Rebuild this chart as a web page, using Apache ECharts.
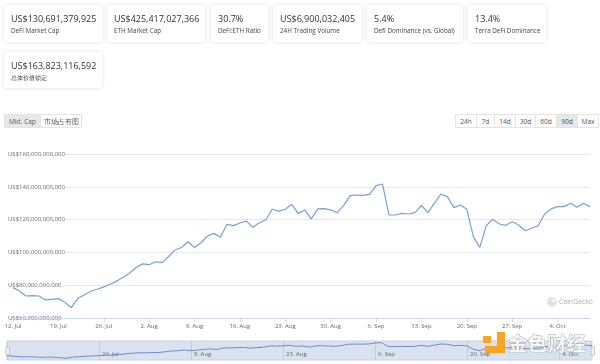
<!DOCTYPE html>
<html><head><meta charset="utf-8">
<script src="https://cdn.jsdelivr.net/npm/echarts@6/dist/echarts.min.js"></script>
<style>
html,body{margin:0;padding:0;background:#fff;width:600px;height:364px;overflow:hidden;font-family:"Open Sans",sans-serif;}
#chart{position:absolute;left:0;top:0;width:600px;height:364px;}
.card{position:absolute;background:#fff;box-shadow:0 0 4px rgba(0,0,0,0.13);border-radius:2px;}
.v{position:absolute;left:7px;top:8px;font-size:9px;line-height:12px;color:#333;white-space:nowrap;}
.l{position:absolute;left:7px;top:21px;font-size:6.3px;line-height:9px;color:#444;white-space:nowrap;}
.btn{position:absolute;top:114px;height:14px;line-height:13px;font-size:6.6px;color:#555;text-align:center;border:1px solid #e4e4e4;box-sizing:border-box;background:#fff;white-space:nowrap;}
.on{background:#e8e8e8;}
</style></head>
<body>
<div id="chart"></div>
<div id="cards"></div>
<div id="btns"></div>
<script>
// ---- data (values in billions of US$) ----
const categories = [
"12. Jul","13. Jul","14. Jul","15. Jul","16. Jul","17. Jul","18. Jul","19. Jul","20. Jul","21. Jul",
"22. Jul","23. Jul","24. Jul","25. Jul","26. Jul","27. Jul","28. Jul","29. Jul","30. Jul","31. Jul",
"1. Aug","2. Aug","3. Aug","4. Aug","5. Aug","6. Aug","7. Aug","8. Aug","9. Aug","10. Aug",
"11. Aug","12. Aug","13. Aug","14. Aug","15. Aug","16. Aug","17. Aug","18. Aug","19. Aug","20. Aug",
"21. Aug","22. Aug","23. Aug","24. Aug","25. Aug","26. Aug","27. Aug","28. Aug","29. Aug","30. Aug",
"31. Aug","1. Sep","2. Sep","3. Sep","4. Sep","5. Sep","6. Sep","7. Sep","8. Sep","9. Sep",
"10. Sep","11. Sep","12. Sep","13. Sep","14. Sep","15. Sep","16. Sep","17. Sep","18. Sep","19. Sep",
"20. Sep","21. Sep","22. Sep","23. Sep","24. Sep","25. Sep","26. Sep","27. Sep","28. Sep","29. Sep",
"30. Sep","1. Oct","2. Oct","3. Oct","4. Oct","5. Oct","6. Oct","7. Oct","8. Oct","9. Oct"];
const mktCap = [
78.5,76.5,73.4,73.6,73.4,71.0,71.4,71.8,69.6,66.3,
72.0,74.0,76.3,77.5,79.0,80.6,82.5,84.8,87.4,90.8,
93.0,92.5,94.3,93.8,97.5,101.5,103.0,106.5,103.0,105.9,
110.0,111.6,109.2,117.1,116.3,117.9,119.1,115.3,118.1,119.9,
126.3,125.2,126.3,129.3,123.8,125.9,120.4,126.5,126.7,125.9,
124.2,128.5,134.6,135.0,134.8,135.4,140.7,141.7,122.8,122.8,
123.8,123.4,124.2,128.7,124.2,130.0,135.6,134.0,127.3,128.9,
126.3,109.6,103.1,116.3,120.2,117.3,116.5,118.7,116.7,113.2,
114.7,116.1,123.4,126.5,127.9,127.9,130.0,127.5,130.0,127.9];
const yTicks = [60,80,100,120,140,160];
const statValues = ["US$130,691,379,925","US$425,417,027,366","30.7%","US$6,900,032,405","5.4%","13.4%","US$163,823,116,592"];
const statLabels = ["DeFi Market Cap","ETH Market Cap","DeFi:ETH Ratio","24H Trading Volume","Defi Dominance (vs. Global)","Terra DeFi Dominance","总体价值锁定"];
const rangeButtons = ["24h","7d","14d","30d","60d","90d","Max"];

// ---- cards (HTML layout) ----
const cardBoxes = [[4,5,98,37],[107,5,98,37],[211,5,57,37],[273,5,89,37],[367,5,96,37],[468,5,78,37],[4,52,98,36]];
const cardsEl = document.getElementById('cards');
cardBoxes.forEach((b,i)=>{
  const d=document.createElement('div');d.className='card';
  d.style.cssText=`left:${b[0]}px;top:${b[1]}px;width:${b[2]}px;height:${b[3]}px;`;
  d.innerHTML=`<div class="v">${statValues[i]}</div><div class="l">${statLabels[i]}</div>`;
  cardsEl.appendChild(d);
});
const btnsEl=document.getElementById('btns');
function addBtn(txt,x,w,on){const d=document.createElement('div');d.className='btn'+(on?' on':'');d.style.left=x+'px';d.style.width=w+'px';d.textContent=txt;btnsEl.appendChild(d);}
addBtn("Mkt. Cap",4,37,true);addBtn("市场占有图",40,42,false);
const bx=[455,476,494,515,535,556,577];
rangeButtons.forEach((t,i)=>addBtn(t,bx[i],(i<6?bx[i+1]:598)-bx[i]+1,t==="90d"));

// ---- chart ----
const chart = echarts.init(document.getElementById('chart'));
const fmt = v => 'US$' + (v*1e9).toLocaleString('en-US');
const lab = {fontFamily:'Open Sans, sans-serif', fontSize:6, color:'#666'};
chart.setOption({
  animation:false,
  grid:[
    {left:13,right:10,top:154,bottom:46},
    {left:7,right:8,top:341,height:19,show:true,backgroundColor:'rgba(102,133,194,0.24)',borderColor:'#c8cfe3',borderWidth:1}
  ],
  xAxis:[
    {type:'category',gridIndex:0,data:categories,boundaryGap:false,z:5,
     axisLine:{lineStyle:{color:'#ccd6eb'}},
     axisTick:{interval:6,length:4,lineStyle:{color:'#ccd6eb'}},
     axisLabel:Object.assign({interval:6,margin:5},lab),
     splitLine:{show:false}},
    {type:'category',gridIndex:1,data:categories,boundaryGap:false,
     axisLine:{show:false},axisTick:{show:false},
     splitLine:{show:true,interval:13,lineStyle:{color:'#c4cbdc',width:1}},
     axisLabel:Object.assign({interval:13,inside:true,align:'left',verticalAlign:'bottom',margin:3,padding:[0,0,0,3],
       formatter:(v,i)=> i===0?'':v},lab)}
  ],
  yAxis:[
    {type:'value',gridIndex:0,min:yTicks[0],max:yTicks[yTicks.length-1],interval:20,
     axisLine:{show:false},axisTick:{show:false},
     splitLine:{lineStyle:{color:'#e6e6e6'}},
     axisLabel:Object.assign({align:'left',margin:5,formatter:fmt,backgroundColor:'#fff',padding:[0,1,4,0],lineHeight:7},lab)},
    {type:'value',gridIndex:1,min:58,max:150,show:false}
  ],
  series:[
    {type:'line',xAxisIndex:0,yAxisIndex:0,data:mktCap,showSymbol:false,lineStyle:{color:'#7a9fd8',width:1.2},z:3},
    {type:'line',xAxisIndex:1,yAxisIndex:1,data:mktCap,showSymbol:false,lineStyle:{color:'#6f8cc8',width:1}}
  ],
  graphic:[
    {type:'rect',shape:{x:6,y:347,width:3.5,height:8},style:{fill:'#f2f2f2',stroke:'#aaa',lineWidth:0.6},z:50},
    {type:'rect',shape:{x:591,y:347,width:3.5,height:8},style:{fill:'#f2f2f2',stroke:'#aaa',lineWidth:0.6},z:50},
    {type:'circle',shape:{cx:552,cy:302,r:5},style:{fill:'#e2e2e2'},z:50},
    {type:'circle',shape:{cx:553.5,cy:300.5,r:2},style:{fill:'#f4f4f4'},z:51},
    {type:'text',x:559,y:302,style:{text:'CoinGecko',fill:'#a8a8a8',font:'6.8px "Open Sans", sans-serif',verticalAlign:'middle'},z:50},
    {type:'rect',shape:{x:483,y:336,width:8,height:7},style:{fill:'#f6a623'},z:60},
    {type:'rect',shape:{x:497,y:332,width:8,height:21},style:{fill:'#f6a623'},z:60},
    {type:'rect',shape:{x:485,y:346,width:20,height:7},style:{fill:'#f6a623'},z:60},
    {type:'text',x:508,y:344,style:{text:'金色财经',fill:'rgba(250,250,250,0.92)',stroke:'#a9a9a9',lineWidth:0.9,
      font:'bold 19.5px "Noto Sans CJK SC", sans-serif',verticalAlign:'middle'},z:60}
  ]
});
</script>
</body></html>
